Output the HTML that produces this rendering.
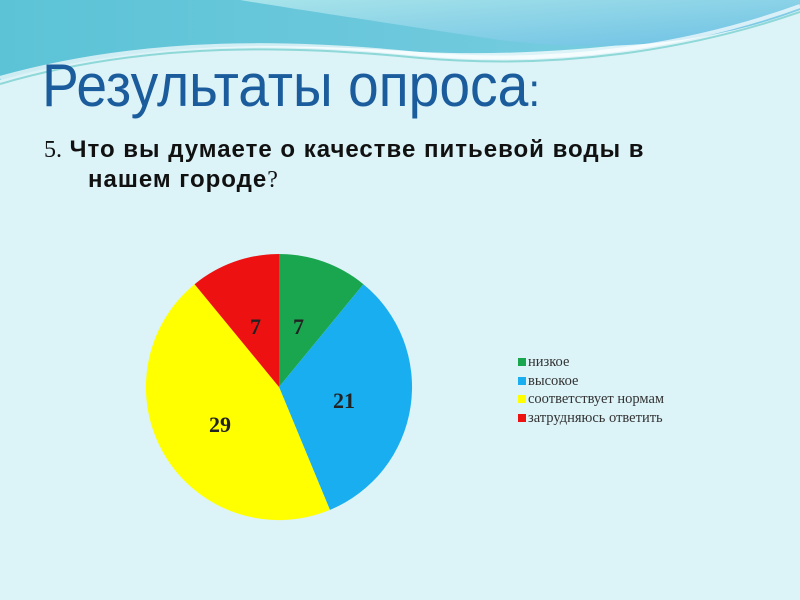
<!DOCTYPE html>
<html><head><meta charset="utf-8"><style>
body{margin:0;width:800px;height:600px;overflow:hidden;background:#dcf3f8;position:relative;font-family:"Liberation Sans",sans-serif}
.t{position:absolute;left:42px;top:51px;font-size:60px;color:#1b5c9c;transform:scaleX(0.92);transform-origin:0 0;white-space:nowrap}
.q{position:absolute;left:44px;top:135px;font-size:24px;font-weight:bold;color:#111;line-height:29px;letter-spacing:1px;white-space:nowrap}
.lg{position:absolute;left:518px;top:353px;font-family:"Liberation Serif",serif;font-size:14.5px;color:#333;line-height:18.5px;white-space:nowrap}
.lg span{display:inline-block;width:8px;height:8px;margin-right:2px}
</style></head><body>
<svg width="800" height="600" style="position:absolute;left:0;top:0">
<defs><linearGradient id="g" x1="0" y1="0" x2="1" y2="0"><stop offset="0" stop-color="#5cc3d6"/><stop offset="0.5" stop-color="#6cc8dc"/><stop offset="1" stop-color="#7fd0e2"/></linearGradient>
<linearGradient id="g2" x1="0" y1="0" x2="1" y2="1"><stop offset="0" stop-color="#a8e4ea"/><stop offset="1" stop-color="#6cc0e4"/></linearGradient></defs>
<path d="M0 0H800V10C700 40 560 58 420 52C300 44 150 38 0 80Z" fill="url(#g)"/>
<path d="M240 0H800V10C720 40 620 55 500 40C400 25 300 10 240 0Z" fill="url(#g2)"/>
<path d="M0 84C150 40 300 46 420 58C560 70 690 50 800 12" stroke="#8ed8d8" stroke-width="2" fill="none"/>
<path d="M0 78C150 36 300 42 420 54C560 66 690 46 800 6" stroke="#fff" stroke-width="4" fill="none" opacity="0.7"/>
<g stroke="none">
<path d="M279 387L279 254A133 133 0 0 1 363.4 284.2Z" fill="#1aa64f"/>
<path d="M279 387L363.4 284.2A133 133 0 0 1 329.9 509.9Z" fill="#19aeef"/>
<path d="M279 387L329.9 509.9A133 133 0 0 1 194.6 284.2Z" fill="#ffff00"/>
<path d="M279 387L194.6 284.2A133 133 0 0 1 279 254Z" fill="#ee1111"/>
</g>
<g font-family="Liberation Serif,serif" font-weight="bold" font-size="22" fill="#222">
<text x="250" y="334">7</text><text x="293" y="334">7</text>
<text x="333" y="408">21</text><text x="209" y="432">29</text></g>
</svg>
<div class="t">Результаты опроса<span style="font-size:46px">:</span></div>
<div class="q"><span style="font-family:'Liberation Serif',serif;font-weight:normal;letter-spacing:0">5.</span> Что вы думаете о качестве питьевой воды в<br><span style="padding-left:44px">нашем городе</span><span style="font-family:'Liberation Serif',serif;font-weight:normal">?</span></div>
<div class="lg"><div><span style="background:#1aa64f"></span>низкое</div><div><span style="background:#19aeef"></span>высокое</div><div><span style="background:#ffff00"></span>соответствует нормам</div><div><span style="background:#ee1111"></span>затрудняюсь ответить</div></div>
</body></html>
